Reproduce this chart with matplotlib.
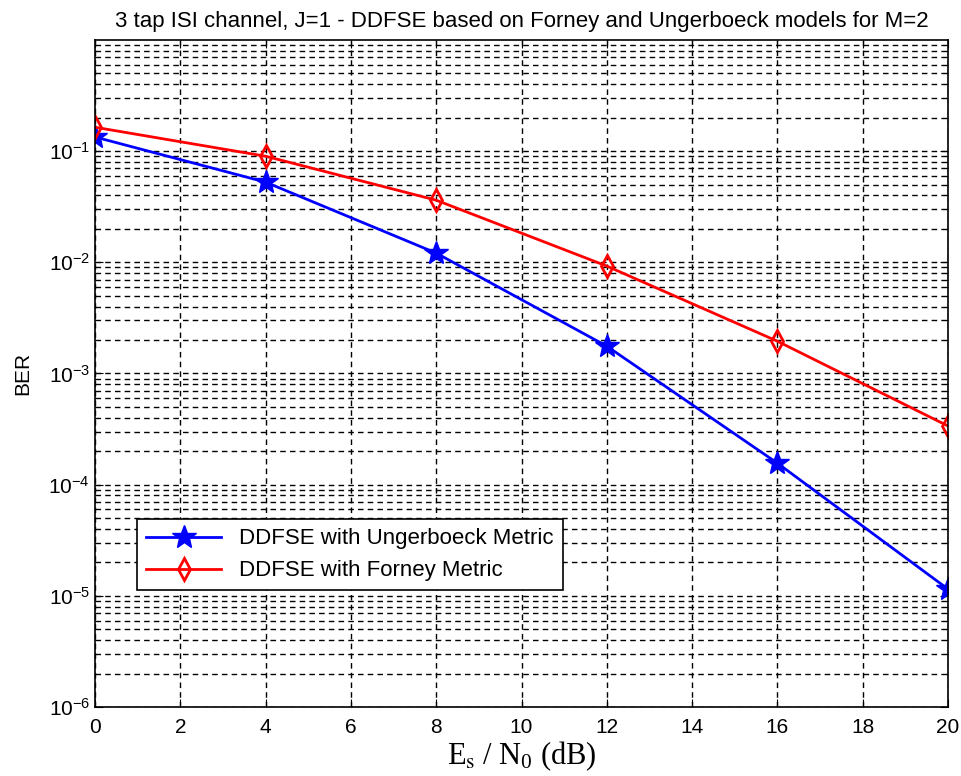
import numpy as np
import matplotlib.pyplot as plt
from matplotlib.ticker import LogLocator, NullFormatter

# SNR points (dB)
snr_db = [0, 4, 8, 12, 16, 20]

# BER
ber_ungerboeck = [0.134, 0.0526, 0.0121, 1.76e-3, 1.56e-4, 1.15e-5]
ber_forney = [0.164, 0.090, 0.0362, 9.25e-3, 1.95e-3, 3.37e-4]

x_ticks = [0, 2, 4, 6, 8, 10, 12, 14, 16, 18, 20]
y_ticks = [1e-6, 1e-5, 1e-4, 1e-3, 1e-2, 1e-1]
y_labels = ['$10^{-6}$', '$10^{-5}$', '$10^{-4}$', '$10^{-3}$', '$10^{-2}$', '$10^{-1}$']

plt.rcParams['font.family'] = 'Liberation Sans'
plt.rcParams['mathtext.fontset'] = 'custom'
plt.rcParams['mathtext.rm'] = 'Liberation Sans'
plt.rcParams['mathtext.it'] = 'Liberation Sans'
plt.rcParams['mathtext.default'] = 'regular'

fig = plt.figure(figsize=(9.61, 7.76), dpi=100)
ax = fig.add_axes([0.0989, 0.0889, 0.8876, 0.8596])

ax.semilogy(snr_db, ber_ungerboeck, color='blue', linewidth=2, marker='*',
            markersize=18, label='DDFSE with Ungerboeck Metric')
ax.semilogy(snr_db, ber_forney, color='red', linewidth=2, marker='d',
            markersize=11, markerfacecolor='none', markeredgewidth=2,
            label='DDFSE with Forney Metric')

ax.set_xlim(0, 20)
ax.set_ylim(1e-6, 1)
ax.set_xticks(x_ticks)
ax.set_yticks(y_ticks)
ax.set_yticklabels(y_labels)
ax.yaxis.set_minor_locator(LogLocator(base=10, subs=np.arange(2, 10), numticks=20))
ax.yaxis.set_minor_formatter(NullFormatter())

ax.grid(True, which='major', linestyle=(0, (4, 3)), color='black', linewidth=1.0)
ax.grid(True, which='minor', axis='y', linestyle=(0, (4, 3)), color='black', linewidth=1.0)
ax.tick_params(which='both', direction='in', top=True, right=True, labelsize=15)
ax.tick_params(which='major', length=6)
ax.tick_params(which='minor', length=3)
ax.tick_params(axis='x', pad=8)
for s in ax.spines.values():
    s.set_linewidth(1.2)

ax.set_title('3 tap ISI channel, J=1 - DDFSE based on Forney and Ungerboeck models for M=2',
             fontsize=16, pad=9)
ax.set_ylabel('BER', fontsize=15, labelpad=12)
ax.set_xlabel(r'E$_\mathrm{s}$ / N$_0$ (dB)', fontsize=22, family='Liberation Serif',
              math_fontfamily='stix', labelpad=2)

leg = ax.legend(loc='lower left', bbox_to_anchor=(0.049, 0.175), borderaxespad=0,
                fontsize=16, fancybox=False, edgecolor='black', framealpha=1,
                handlelength=3.4)
leg.get_frame().set_linewidth(1.2)

fig.savefig('out.png', dpi=100)
